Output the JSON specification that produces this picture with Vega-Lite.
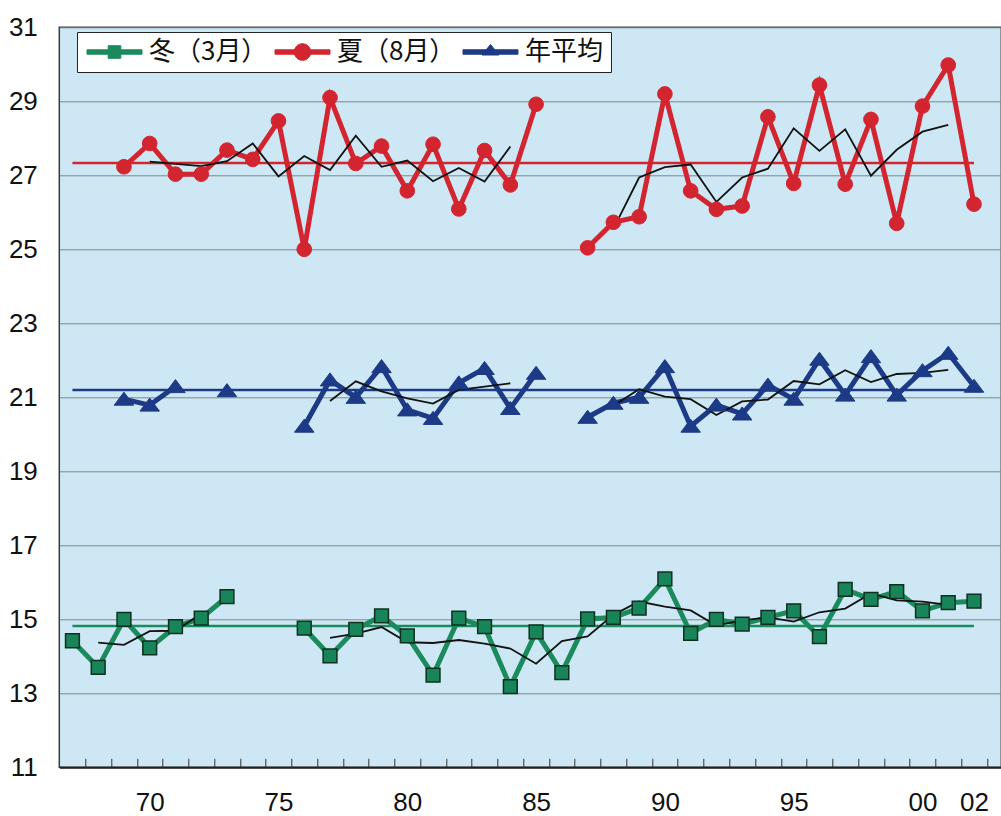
{
  "$schema": "https://vega.github.io/schema/vega-lite/v6.json",
  "width": 942,
  "height": 740,
  "autosize": {"type": "none"},
  "padding": {"left": 59.3, "top": 27.3, "right": 0, "bottom": 48.7},
  "background": "white",
  "config": {
    "view": {"fill": "#cde8f4", "stroke": "#3a3a3a", "strokeWidth": 1.5},
    "font": "Liberation Sans"
  },
  "datasets": {
    "obs": [
      {"year": 1967, "series": "冬（3月）", "value": 14.42},
      {"year": 1968, "series": "冬（3月）", "value": 13.70},
      {"year": 1969, "series": "冬（3月）", "value": 15.00},
      {"year": 1970, "series": "冬（3月）", "value": 14.23},
      {"year": 1971, "series": "冬（3月）", "value": 14.80},
      {"year": 1972, "series": "冬（3月）", "value": 15.03},
      {"year": 1973, "series": "冬（3月）", "value": 15.61},
      {"year": 1974, "series": "冬（3月）", "value": null},
      {"year": 1976, "series": "冬（3月）", "value": 14.76},
      {"year": 1977, "series": "冬（3月）", "value": 14.01},
      {"year": 1978, "series": "冬（3月）", "value": 14.73},
      {"year": 1979, "series": "冬（3月）", "value": 15.09},
      {"year": 1980, "series": "冬（3月）", "value": 14.55},
      {"year": 1981, "series": "冬（3月）", "value": 13.49},
      {"year": 1982, "series": "冬（3月）", "value": 15.03},
      {"year": 1983, "series": "冬（3月）", "value": 14.80},
      {"year": 1984, "series": "冬（3月）", "value": 13.18},
      {"year": 1985, "series": "冬（3月）", "value": 14.66},
      {"year": 1986, "series": "冬（3月）", "value": 13.56},
      {"year": 1987, "series": "冬（3月）", "value": 15.01},
      {"year": 1988, "series": "冬（3月）", "value": 15.05},
      {"year": 1989, "series": "冬（3月）", "value": 15.30},
      {"year": 1990, "series": "冬（3月）", "value": 16.09},
      {"year": 1991, "series": "冬（3月）", "value": 14.62},
      {"year": 1992, "series": "冬（3月）", "value": 15.00},
      {"year": 1993, "series": "冬（3月）", "value": 14.87},
      {"year": 1994, "series": "冬（3月）", "value": 15.05},
      {"year": 1995, "series": "冬（3月）", "value": 15.23},
      {"year": 1996, "series": "冬（3月）", "value": 14.53},
      {"year": 1997, "series": "冬（3月）", "value": 15.81},
      {"year": 1998, "series": "冬（3月）", "value": 15.54},
      {"year": 1999, "series": "冬（3月）", "value": 15.75},
      {"year": 2000, "series": "冬（3月）", "value": 15.23},
      {"year": 2001, "series": "冬（3月）", "value": 15.45},
      {"year": 2002, "series": "冬（3月）", "value": 15.49},
      {"year": 1969, "series": "夏（8月）", "value": 27.23},
      {"year": 1970, "series": "夏（8月）", "value": 27.86},
      {"year": 1971, "series": "夏（8月）", "value": 27.03},
      {"year": 1972, "series": "夏（8月）", "value": 27.03},
      {"year": 1973, "series": "夏（8月）", "value": 27.68},
      {"year": 1974, "series": "夏（8月）", "value": 27.43},
      {"year": 1975, "series": "夏（8月）", "value": 28.47},
      {"year": 1976, "series": "夏（8月）", "value": 25.00},
      {"year": 1977, "series": "夏（8月）", "value": 29.10},
      {"year": 1978, "series": "夏（8月）", "value": 27.32},
      {"year": 1979, "series": "夏（8月）", "value": 27.79},
      {"year": 1980, "series": "夏（8月）", "value": 26.58},
      {"year": 1981, "series": "夏（8月）", "value": 27.84},
      {"year": 1982, "series": "夏（8月）", "value": 26.09},
      {"year": 1983, "series": "夏（8月）", "value": 27.67},
      {"year": 1984, "series": "夏（8月）", "value": 26.74},
      {"year": 1985, "series": "夏（8月）", "value": 28.92},
      {"year": 1986, "series": "夏（8月）", "value": null},
      {"year": 1987, "series": "夏（8月）", "value": 25.04},
      {"year": 1988, "series": "夏（8月）", "value": 25.73},
      {"year": 1989, "series": "夏（8月）", "value": 25.88},
      {"year": 1990, "series": "夏（8月）", "value": 29.20},
      {"year": 1991, "series": "夏（8月）", "value": 26.58},
      {"year": 1992, "series": "夏（8月）", "value": 26.08},
      {"year": 1993, "series": "夏（8月）", "value": 26.17},
      {"year": 1994, "series": "夏（8月）", "value": 28.58},
      {"year": 1995, "series": "夏（8月）", "value": 26.78},
      {"year": 1996, "series": "夏（8月）", "value": 29.44},
      {"year": 1997, "series": "夏（8月）", "value": 26.76},
      {"year": 1998, "series": "夏（8月）", "value": 28.51},
      {"year": 1999, "series": "夏（8月）", "value": 25.70},
      {"year": 2000, "series": "夏（8月）", "value": 28.87},
      {"year": 2001, "series": "夏（8月）", "value": 29.98},
      {"year": 2002, "series": "夏（8月）", "value": 26.22},
      {"year": 1969, "series": "年平均", "value": 20.95},
      {"year": 1970, "series": "年平均", "value": 20.79},
      {"year": 1971, "series": "年平均", "value": 21.29},
      {"year": 1972, "series": "年平均", "value": null},
      {"year": 1973, "series": "年平均", "value": 21.18},
      {"year": 1974, "series": "年平均", "value": null},
      {"year": 1976, "series": "年平均", "value": 20.22},
      {"year": 1977, "series": "年平均", "value": 21.47},
      {"year": 1978, "series": "年平均", "value": 21.00},
      {"year": 1979, "series": "年平均", "value": 21.83},
      {"year": 1980, "series": "年平均", "value": 20.66},
      {"year": 1981, "series": "年平均", "value": 20.43},
      {"year": 1982, "series": "年平均", "value": 21.39},
      {"year": 1983, "series": "年平均", "value": 21.78},
      {"year": 1984, "series": "年平均", "value": 20.70},
      {"year": 1985, "series": "年平均", "value": 21.65},
      {"year": 1986, "series": "年平均", "value": null},
      {"year": 1987, "series": "年平均", "value": 20.46},
      {"year": 1988, "series": "年平均", "value": 20.84},
      {"year": 1989, "series": "年平均", "value": 21.00},
      {"year": 1990, "series": "年平均", "value": 21.83},
      {"year": 1991, "series": "年平均", "value": 20.22},
      {"year": 1992, "series": "年平均", "value": 20.79},
      {"year": 1993, "series": "年平均", "value": 20.55},
      {"year": 1994, "series": "年平均", "value": 21.33},
      {"year": 1995, "series": "年平均", "value": 20.95},
      {"year": 1996, "series": "年平均", "value": 22.03},
      {"year": 1997, "series": "年平均", "value": 21.06},
      {"year": 1998, "series": "年平均", "value": 22.10},
      {"year": 1999, "series": "年平均", "value": 21.06},
      {"year": 2000, "series": "年平均", "value": 21.72},
      {"year": 2001, "series": "年平均", "value": 22.19},
      {"year": 2002, "series": "年平均", "value": 21.30}
    ],
    "ma": [
      {"year": 1968, "series": "冬（3月）", "value": 14.37},
      {"year": 1969, "series": "冬（3月）", "value": 14.31},
      {"year": 1970, "series": "冬（3月）", "value": 14.68},
      {"year": 1971, "series": "冬（3月）", "value": 14.69},
      {"year": 1972, "series": "冬（3月）", "value": 15.15},
      {"year": 1973, "series": "冬（3月）", "value": null},
      {"year": 1977, "series": "冬（3月）", "value": 14.50},
      {"year": 1978, "series": "冬（3月）", "value": 14.61},
      {"year": 1979, "series": "冬（3月）", "value": 14.79},
      {"year": 1980, "series": "冬（3月）", "value": 14.38},
      {"year": 1981, "series": "冬（3月）", "value": 14.36},
      {"year": 1982, "series": "冬（3月）", "value": 14.44},
      {"year": 1983, "series": "冬（3月）", "value": 14.34},
      {"year": 1984, "series": "冬（3月）", "value": 14.21},
      {"year": 1985, "series": "冬（3月）", "value": 13.80},
      {"year": 1986, "series": "冬（3月）", "value": 14.41},
      {"year": 1987, "series": "冬（3月）", "value": 14.54},
      {"year": 1988, "series": "冬（3月）", "value": 15.12},
      {"year": 1989, "series": "冬（3月）", "value": 15.48},
      {"year": 1990, "series": "冬（3月）", "value": 15.34},
      {"year": 1991, "series": "冬（3月）", "value": 15.24},
      {"year": 1992, "series": "冬（3月）", "value": 14.83},
      {"year": 1993, "series": "冬（3月）", "value": 14.97},
      {"year": 1994, "series": "冬（3月）", "value": 15.05},
      {"year": 1995, "series": "冬（3月）", "value": 14.94},
      {"year": 1996, "series": "冬（3月）", "value": 15.19},
      {"year": 1997, "series": "冬（3月）", "value": 15.29},
      {"year": 1998, "series": "冬（3月）", "value": 15.70},
      {"year": 1999, "series": "冬（3月）", "value": 15.51},
      {"year": 2000, "series": "冬（3月）", "value": 15.48},
      {"year": 2001, "series": "冬（3月）", "value": 15.39},
      {"year": 1970, "series": "夏（8月）", "value": 27.37},
      {"year": 1971, "series": "夏（8月）", "value": 27.31},
      {"year": 1972, "series": "夏（8月）", "value": 27.25},
      {"year": 1973, "series": "夏（8月）", "value": 27.38},
      {"year": 1974, "series": "夏（8月）", "value": 27.86},
      {"year": 1975, "series": "夏（8月）", "value": 26.97},
      {"year": 1976, "series": "夏（8月）", "value": 27.52},
      {"year": 1977, "series": "夏（8月）", "value": 27.14},
      {"year": 1978, "series": "夏（8月）", "value": 28.07},
      {"year": 1979, "series": "夏（8月）", "value": 27.23},
      {"year": 1980, "series": "夏（8月）", "value": 27.40},
      {"year": 1981, "series": "夏（8月）", "value": 26.84},
      {"year": 1982, "series": "夏（8月）", "value": 27.20},
      {"year": 1983, "series": "夏（8月）", "value": 26.83},
      {"year": 1984, "series": "夏（8月）", "value": 27.78},
      {"year": 1985, "series": "夏（8月）", "value": null},
      {"year": 1988, "series": "夏（8月）", "value": 25.55},
      {"year": 1989, "series": "夏（8月）", "value": 26.94},
      {"year": 1990, "series": "夏（8月）", "value": 27.22},
      {"year": 1991, "series": "夏（8月）", "value": 27.29},
      {"year": 1992, "series": "夏（8月）", "value": 26.28},
      {"year": 1993, "series": "夏（8月）", "value": 26.94},
      {"year": 1994, "series": "夏（8月）", "value": 27.18},
      {"year": 1995, "series": "夏（8月）", "value": 28.27},
      {"year": 1996, "series": "夏（8月）", "value": 27.66},
      {"year": 1997, "series": "夏（8月）", "value": 28.24},
      {"year": 1998, "series": "夏（8月）", "value": 26.99},
      {"year": 1999, "series": "夏（8月）", "value": 27.69},
      {"year": 2000, "series": "夏（8月）", "value": 28.18},
      {"year": 2001, "series": "夏（8月）", "value": 28.36},
      {"year": 1977, "series": "年平均", "value": 20.90},
      {"year": 1978, "series": "年平均", "value": 21.43},
      {"year": 1979, "series": "年平均", "value": 21.16},
      {"year": 1980, "series": "年平均", "value": 20.97},
      {"year": 1981, "series": "年平均", "value": 20.83},
      {"year": 1982, "series": "年平均", "value": 21.20},
      {"year": 1983, "series": "年平均", "value": 21.29},
      {"year": 1984, "series": "年平均", "value": 21.38},
      {"year": 1985, "series": "年平均", "value": null},
      {"year": 1988, "series": "年平均", "value": 20.77},
      {"year": 1989, "series": "年平均", "value": 21.22},
      {"year": 1990, "series": "年平均", "value": 21.02},
      {"year": 1991, "series": "年平均", "value": 20.95},
      {"year": 1992, "series": "年平均", "value": 20.52},
      {"year": 1993, "series": "年平均", "value": 20.89},
      {"year": 1994, "series": "年平均", "value": 20.94},
      {"year": 1995, "series": "年平均", "value": 21.44},
      {"year": 1996, "series": "年平均", "value": 21.35},
      {"year": 1997, "series": "年平均", "value": 21.73},
      {"year": 1998, "series": "年平均", "value": 21.41},
      {"year": 1999, "series": "年平均", "value": 21.63},
      {"year": 2000, "series": "年平均", "value": 21.66},
      {"year": 2001, "series": "年平均", "value": 21.74}
    ],
    "mean": [
      {"year": 1967, "series": "冬（3月）", "value": 14.82},
      {"year": 2002, "series": "冬（3月）", "value": 14.82},
      {"year": 1967, "series": "夏（8月）", "value": 27.33},
      {"year": 2002, "series": "夏（8月）", "value": 27.33},
      {"year": 1967, "series": "年平均", "value": 21.2},
      {"year": 2002, "series": "年平均", "value": 21.2}
    ]
  },
  "encoding": {
    "x": {
      "field": "year",
      "type": "quantitative",
      "scale": {"domain": [1966.49, 2003.06], "nice": false, "zero": false},
      "axis": {
        "title": null,
        "values": [1967, 1968, 1969, 1970, 1971, 1972, 1973, 1974, 1975, 1976, 1977, 1978, 1979, 1980, 1981, 1982, 1983, 1984, 1985, 1986, 1987, 1988, 1989, 1990, 1991, 1992, 1993, 1994, 1995, 1996, 1997, 1998, 1999, 2000, 2001, 2002],
        "labelExpr": "indexof([1970,1975,1980,1985,1990,1995,2000,2002], datum.value) >= 0 ? slice(toString(datum.value), 2) : ''",
        "tickSize": -9,
        "tickOffset": 12.88,
        "labelOffset": -12.88,
        "tickColor": "#333333",
        "tickWidth": 1,
        "domainColor": "#222222",
        "domainWidth": 2,
        "labelFontSize": 26,
        "labelColor": "#111111",
        "labelPadding": 31,
        "labelBaseline": "top",
        "labelFlush": false,
        "labelOverlap": false,
        "labelBound": false,
        "grid": false
      }
    },
    "y": {
      "field": "value",
      "type": "quantitative",
      "scale": {"domain": [11, 31], "nice": false, "zero": false},
      "axis": {
        "title": null,
        "values": [11, 13, 15, 17, 19, 21, 23, 25, 27, 29, 31],
        "grid": true,
        "gridColor": "#7d878c",
        "gridWidth": 1,
        "ticks": false,
        "domain": false,
        "labelFontSize": 26,
        "labelColor": "#111111",
        "labelPadding": 22
      }
    }
  },
  "layer": [
    {
      "data": {"name": "obs"},
      "mark": {"type": "line", "strokeWidth": 5},
      "encoding": {
        "color": {
          "field": "series",
          "type": "nominal",
          "scale": {"domain": ["冬（3月）", "夏（8月）", "年平均"], "range": ["#1b8a5c", "#d3252f", "#1c3a85"]},
          "legend": {
            "orient": "none",
            "legendX": 17.7,
            "legendY": 4.7,
            "direction": "horizontal",
            "title": null,
            "fillColor": "white",
            "strokeColor": "#222222",
            "padding": 7,
            "symbolSize": 400,
            "labelOffset": 39,
            "labelFontSize": 26,
            "labelFont": "Noto Sans CJK JP",
            "labelColor": "#111111",
            "labelLimit": 300,
            "columnPadding": 4,
            "symbolStrokeWidth": 1,
            "encode": {
              "symbols": {
                "enter": {
                  "shape": {"signal": "datum.value === '冬（3月）' ? 'M-1,-0.22H4.5V0.22H-1Z M1.12,-0.63H2.38V0.63H1.12Z' : datum.value === '夏（8月）' ? 'M-1,-0.22H4.5V0.22H-1Z M0.92,0A0.83,0.83 0 1,1 2.58,0A0.83,0.83 0 1,1 0.92,0Z' : 'M-1,-0.22H4.5V0.22H-1Z M1.75,-0.75L2.6,0.3L0.9,0.3Z'"}
                },
                "update": {
                  "shape": {"signal": "datum.value === '冬（3月）' ? 'M-1,-0.22H4.5V0.22H-1Z M1.12,-0.63H2.38V0.63H1.12Z' : datum.value === '夏（8月）' ? 'M-1,-0.22H4.5V0.22H-1Z M0.92,0A0.83,0.83 0 1,1 2.58,0A0.83,0.83 0 1,1 0.92,0Z' : 'M-1,-0.22H4.5V0.22H-1Z M1.75,-0.75L2.6,0.3L0.9,0.3Z'"},
                  "fill": {"scale": "color", "field": "value"},
                  "stroke": {"scale": "color", "field": "value"},
                  "fillOpacity": {"value": 1},
                  "strokeWidth": {"value": 1},
                  "opacity": {"value": 1}
                }
              }
            }
          }
        }
      }
    },
    {
      "data": {"name": "mean"},
      "mark": {"type": "line", "strokeWidth": 2.5},
      "encoding": {
        "color": {"field": "series", "type": "nominal"}
      }
    },
    {
      "data": {"name": "ma"},
      "mark": {"type": "line", "strokeWidth": 1.8, "color": "#111111"},
      "encoding": {
        "detail": {"field": "series", "type": "nominal"}
      }
    },
    {
      "data": {"name": "obs"},
      "transform": [{"filter": "datum.series === '冬（3月）'"}],
      "mark": {"type": "point", "shape": "square", "size": 190, "filled": true, "fill": "#17845a", "stroke": "#10301f", "strokeWidth": 1.5, "opacity": 1},
      "encoding": {}
    },
    {
      "data": {"name": "obs"},
      "transform": [{"filter": "datum.series === '夏（8月）'"}],
      "mark": {"type": "point", "shape": "circle", "size": 215, "filled": true, "fill": "#d3252f", "stroke": "#d3252f", "strokeWidth": 1, "opacity": 1},
      "encoding": {}
    },
    {
      "data": {"name": "obs"},
      "transform": [{"filter": "datum.series === '年平均'"}],
      "mark": {"type": "point", "shape": "M0,-0.72L1,0.62L-1,0.62Z", "size": 380, "filled": true, "fill": "#1c3a85", "stroke": "#1c3a85", "strokeWidth": 1, "opacity": 1},
      "encoding": {}
    }
  ]
}
